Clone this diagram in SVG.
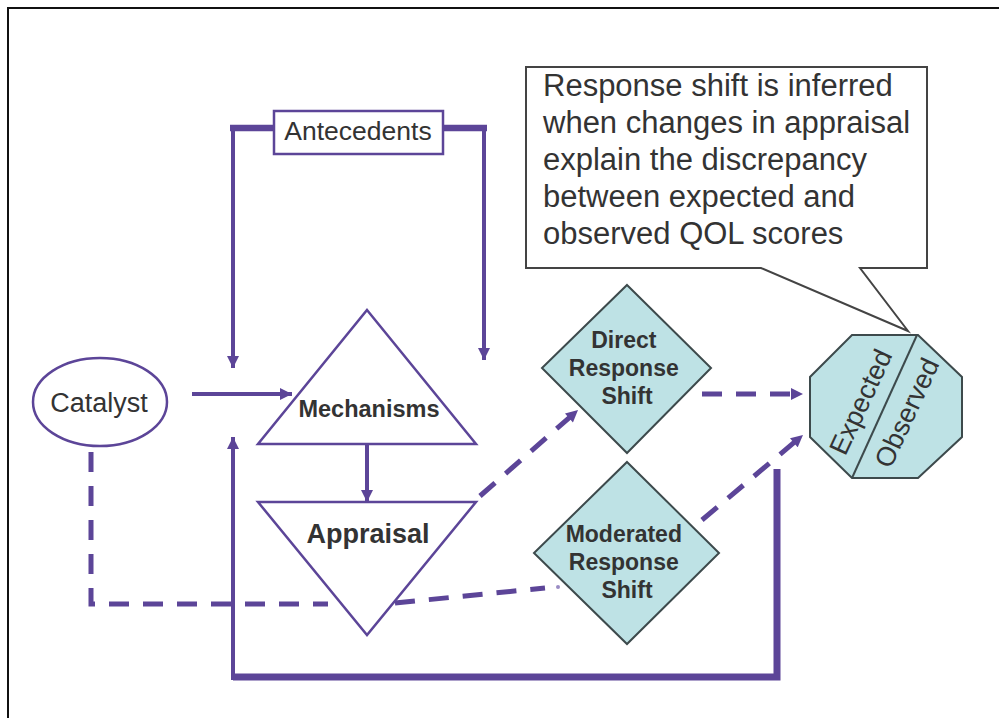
<svg xmlns="http://www.w3.org/2000/svg" width="999" height="718" viewBox="0 0 999 718">
  <defs>
    <style>
      .lbl { font-family: "Liberation Sans", Arial, sans-serif; fill: #333; }
      .b { font-weight: bold; }
      .node { fill: #fff; stroke: #5c4598; stroke-width: 2.5; }
      .shift { fill: #bee2e5; stroke: #3d4a4c; stroke-width: 2; }
      .solid { fill: none; stroke: #5c4598; stroke-linejoin: miter; }
      .dash { fill: none; stroke: #5c4598; stroke-width: 5; stroke-dasharray: 20 14; }
    </style>
    <marker id="arr" viewBox="0 0 12 12" refX="12" refY="6" markerWidth="13" markerHeight="12" markerUnits="userSpaceOnUse" orient="auto">
      <path d="M0,0 L12,6 L0,12 Z" fill="#5c4598"/>
    </marker>
  </defs>

  <rect width="999" height="718" fill="#fff"/>
  <!-- frame: only top and left edges fall inside the canvas -->
  <rect x="8" y="8" width="1010" height="740" fill="none" stroke="#111" stroke-width="2"/>

  <g id="connectors">
    <!-- antecedents feedback loop -->
    <path class="solid" stroke-width="6.5" d="M230,128 H275 M441,128 H487"/>
    <path class="solid" stroke-width="4" d="M233,126 V368" marker-end="url(#arr)"/>
    <path class="solid" stroke-width="4" d="M484,126 V360" marker-end="url(#arr)"/>
    <!-- catalyst to mechanisms -->
    <path class="solid" stroke-width="4" d="M192,394 H292" marker-end="url(#arr)"/>
    <!-- mechanisms to appraisal -->
    <path class="solid" stroke-width="4" d="M367,444 V502" marker-end="url(#arr)"/>
    <!-- outer return loop -->
    <path class="solid" stroke-width="7" d="M777,469 V677 H233"/>
    <path class="solid" stroke-width="4" d="M233,680 V437" marker-end="url(#arr)"/>
    <!-- catalyst dashed path -->
    <path class="dash" stroke-width="6" stroke-dasharray="26 16" d="M91,452 V604 H328"/>
    <!-- appraisal to moderated shift -->
    <path class="dash" d="M395,603 L545,588"/>
    <circle cx="558" cy="587" r="2" fill="#9a8cc4"/>
    <!-- appraisal to direct shift -->
    <path class="dash" d="M480,496 L578,410" marker-end="url(#arr)"/>
    <!-- shifts to expected/observed -->
    <path class="dash" d="M702,394 H803" marker-end="url(#arr)"/>
    <path class="dash" d="M702,520 L803,435" marker-end="url(#arr)"/>
  </g>

  <g id="antecedents">
    <rect class="node" x="274" y="111" width="169" height="43"/>
    <text class="lbl" x="358" y="140" font-size="26.5" text-anchor="middle">Antecedents</text>
  </g>

  <g id="catalyst">
    <ellipse class="node" cx="100" cy="402" rx="67" ry="44"/>
    <text class="lbl" x="99" y="412" font-size="27" text-anchor="middle">Catalyst</text>
  </g>

  <g id="mechanisms">
    <polygon class="node" points="367,310 476,444 258,444"/>
    <text class="lbl b" x="369" y="417" font-size="23.5" text-anchor="middle">Mechanisms</text>
  </g>

  <g id="appraisal">
    <polygon class="node" points="258,502 476,502 367,635"/>
    <text class="lbl b" x="368" y="543" font-size="27" text-anchor="middle">Appraisal</text>
  </g>

  <g id="direct-shift">
    <polygon class="shift" points="627,285 711,368 627,453 542,368"/>
    <text class="lbl b" font-size="23" text-anchor="middle">
      <tspan x="627" y="348">Direct</tspan>
      <tspan x="627" y="376">Response</tspan>
      <tspan x="627" y="404">Shift</tspan>
    </text>
  </g>

  <g id="moderated-shift">
    <polygon class="shift" points="627,462 719,553 627,644 534,553"/>
    <text class="lbl b" font-size="23" text-anchor="middle">
      <tspan x="627" y="542">Moderated</tspan>
      <tspan x="627" y="570">Response</tspan>
      <tspan x="627" y="598">Shift</tspan>
    </text>
  </g>

  <g id="expected-observed">
    <polygon class="shift" points="852,335 918,335 962,377 962,437 918,478 852,478 810,437 810,377"/>
    <line x1="917" y1="335" x2="852" y2="478" stroke="#3d4a4c" stroke-width="2"/>
    <text class="lbl" font-size="27" text-anchor="middle" dominant-baseline="central" transform="translate(861,402) rotate(-65)">Expected</text>
    <text class="lbl" font-size="27" text-anchor="middle" dominant-baseline="central" transform="translate(907,413) rotate(-65)">Observed</text>
  </g>

  <g id="callout">
    <path d="M526,67 H927 V268 H860 L908,331 L761,268 H526 Z" fill="#fff" stroke="#444" stroke-width="2"/>
    <text class="lbl" font-size="31">
      <tspan x="543" y="96">Response shift is inferred</tspan>
      <tspan x="543" y="133">when changes in appraisal</tspan>
      <tspan x="543" y="170">explain the discrepancy</tspan>
      <tspan x="543" y="207">between expected and</tspan>
      <tspan x="543" y="244">observed QOL scores</tspan>
    </text>
  </g>
</svg>
